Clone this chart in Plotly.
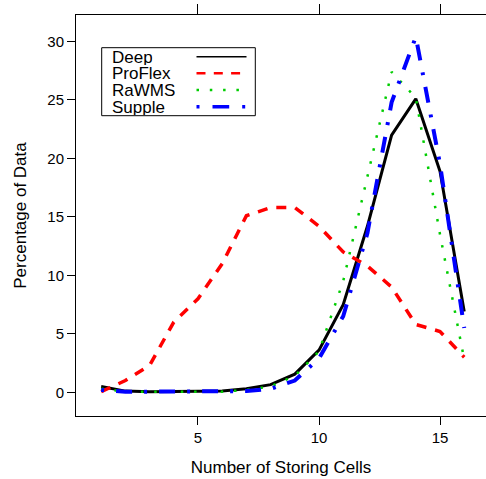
import plotly.graph_objects as go

cells = list(range(1, 17))
deep = [0.5, 0.1, 0.05, 0.05, 0.05, 0.1, 0.3, 0.65, 1.55, 3.6, 7.5, 14.2, 22.0, 25.1, 18.9, 6.9]
proflex = [0.05, 1.0, 2.3, 6.0, 8.0, 11.0, 15.1, 15.8, 15.8, 14.2, 12.0, 10.8, 9.0, 5.8, 5.2, 3.0]
rawms = [0.3, 0.05, 0.05, 0.05, 0.05, 0.05, 0.2, 0.5, 1.4, 3.5, 9.5, 18.4, 27.4, 25.2, 13.5, 2.8]
supple = [0.2, 0.05, 0.05, 0.05, 0.05, 0.05, 0.1, 0.3, 1.0, 2.9, 6.5, 13.6, 24.8, 30.4, 19.5, 5.5]

series_names = ["Deep", "ProFlex", "RaWMS", "Supple"]
x_ticks = [5, 10, 15]
y_ticks = [0, 5, 10, 15, 20, 25, 30]

styles = [
    dict(color="black", width=3, dash="solid"),
    dict(color="#FF0000", width=3.5, dash="10px,9px"),
    dict(color="#00CD00", width=2.5, dash="2.5px,10.8px"),
    dict(color="#0000FF", width=4, dash="3px,12px,16px,12px"),
]
legend_styles = [
    dict(color="black", width=1.5, dash="solid"),
    dict(color="#FF0000", width=2.5, dash="9px,8.3px"),
    dict(color="#00CD00", width=2.5, dash="2.5px,10.8px"),
    dict(color="#0000FF", width=3.5, dash="3px,13px,16.7px,13px"),
]

FONT = "Liberation Sans, Arial, Helvetica, sans-serif"
W, H = 486, 479
ML, MR, MT, MB = 76, 0, 15, 63

fig = go.Figure()
for name, ys, st in zip(series_names, [deep, proflex, rawms, supple], styles):
    fig.add_trace(go.Scatter(x=cells, y=ys, mode="lines", name=name, line=st,
                             showlegend=False))

pw = W - ML - MR
ph = H - MT - MB

def px(x):
    return (x - ML) / pw

def py(y):
    return (H - MB - y) / ph

shapes = []
annotations = []
shapes.append(dict(type="rect", xref="paper", yref="paper",
                   x0=px(101.7), x1=px(255.3), y0=py(115.7), y1=py(47.7),
                   line=dict(color="black", width=1), fillcolor="white"))
rows = [56.7, 73.3, 90.0, 106.7]
for name, st, ry in zip(series_names, legend_styles, rows):
    annotations.append(dict(xref="paper", yref="paper", x=px(110.5), y=py(ry),
                            text=name, showarrow=False, xanchor="left", yanchor="middle",
                            height=16, valign="middle", borderpad=0,
                            font=dict(family=FONT, size=17, color="black")))
    shapes.append(dict(type="line", xref="paper", yref="paper",
                       x0=px(196.5), x1=px(246.5), y0=py(ry), y1=py(ry),
                       line=dict(color=st["color"], width=st["width"], dash=st["dash"])))

fig.update_layout(
    width=W, height=H,
    margin=dict(l=ML, r=MR, t=MT, b=MB),
    paper_bgcolor="white", plot_bgcolor="white",
    font=dict(family=FONT, size=15, color="black"),
    shapes=shapes, annotations=annotations,
    xaxis=dict(range=[-0.04, 16.9], tickvals=x_ticks, ticks="outside", ticklen=8,
               tickcolor="black", showline=True, linecolor="black", linewidth=1,
               mirror=True, showgrid=False, zeroline=False,
               tickfont=dict(size=15),
               title=dict(text="Number of Storing Cells", font=dict(size=17), standoff=16)),
    xaxis2=dict(range=[-0.04, 16.9], tickvals=x_ticks, ticks="outside", ticklen=10,
                tickcolor="black", showticklabels=False, overlaying="x", side="top",
                showgrid=False, zeroline=False, showline=False),
    yaxis=dict(range=[-2.03, 32.27], tickvals=y_ticks, ticks="outside", ticklen=8,
               tickcolor="black", showline=True, linecolor="black", linewidth=1,
               mirror=True, showgrid=False, zeroline=False,
               tickfont=dict(size=15),
               title=dict(text="Percentage of Data", font=dict(size=17), standoff=16)),
)
fig.add_trace(go.Scatter(x=[None], y=[None], xaxis="x2", showlegend=False))
fig.write_html("out.html")
